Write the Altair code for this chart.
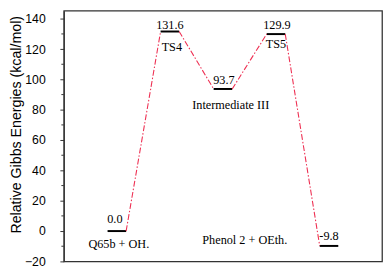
import altair as alt
import pandas as pd

# ---- data ----
stages = [1, 2, 3, 4, 5]
energies = [0.0, 131.6, 93.7, 129.9, -9.8]
names = ["Q65b + OH.", "TS4", "Intermediate III", "TS5", "Phenol 2 + OEth."]
major_ticks = [-20, 0, 20, 40, 60, 80, 100, 120, 140]
minor_ticks = [-10, 10, 30, 50, 70, 90, 110, 130]

HALF = 0.175
RED = "#ee2f52"
SERIF = "'Times New Roman', 'Liberation Serif', 'DejaVu Serif', serif"
SANS = "Arial, 'Liberation Sans', sans-serif"

levels = pd.DataFrame({"stage": stages, "energy": energies, "name": names})
levels["x1"] = levels["stage"] - HALF
levels["x2"] = levels["stage"] + HALF
levels["label"] = levels["energy"].map(lambda v: f"{v:.1f}")

links = pd.DataFrame({
    "xa": [s + HALF for s in stages[:-1]],
    "ya": energies[:-1],
    "xb": [s - HALF for s in stages[1:]],
    "yb": energies[1:],
})

minor = pd.DataFrame({"v": minor_ticks})

xs = alt.Scale(domain=[0, 6], nice=False, zero=False)
ys = alt.Scale(domain=[-20, 145.3], nice=False, zero=False)

TITLE = "Relative Gibbs Energies (kcal/mol)"


def y_axis():
    return alt.Axis(
        values=major_ticks,
        title=TITLE,
        titleFont=SANS, titleFontSize=14.5, titleFontWeight="normal", titleColor="#000",
        titleX=-44, titleY=116, titleAngle=-90, titleAlign="center", titleBaseline="alphabetic",
        labelFont=SANS, labelFontSize=12.5, labelColor="#000", labelPadding=15,
        labelOverlap=False, labelFlush=False, labelBound=False,
        tickSize=4, tickColor="#333", domainColor="#333", domainWidth=1.2, grid=False,
    )


def Y(field):
    return alt.Y(field, type="quantitative", scale=ys, axis=y_axis(), title=TITLE)


def X(field):
    return alt.X(field, type="quantitative", scale=xs, axis=None)


base_lvl = alt.Chart(levels)

bars = base_lvl.mark_rule(color="#000", strokeWidth=2).encode(
    x=X("x1"), x2="x2", y=Y("energy"),
)

minor_marks = alt.Chart(minor).mark_rule(color="#333", strokeWidth=1, clip=False).encode(
    x=alt.value(-2.5), x2=alt.value(0), y=Y("v"),
)

lines = alt.Chart(links).mark_rule(color=RED, strokeWidth=1.1, strokeDash=[6, 2, 1.5, 2]).encode(
    x=X("xa"), x2="xb", y=Y("ya"), y2="yb",
)

layers = [bars, lines, minor_marks]

# value labels above each level (dx, dy in pixels)
value_offsets = {1: (-2, -8), 2: (0, -3), 3: (1, -5), 4: (1, -5), 5: (0, -6)}
for s, (dx, dy) in value_offsets.items():
    layers.append(
        base_lvl.transform_filter(f"datum.stage == {s}").mark_text(
            font=SERIF, fontSize=12.5, color="#000", baseline="alphabetic",
            align="center", dx=dx, dy=dy,
        ).encode(x=X("stage"), y=Y("energy"), text="label:N")
    )

# name labels
name_offsets = {1: (2, 17), 2: (2, 20), 3: (8, 20), 4: (0, 14), 5: (-86, -2)}
for s, (dx, dy) in name_offsets.items():
    layers.append(
        base_lvl.transform_filter(f"datum.stage == {s}").mark_text(
            font=SERIF, fontSize=12.5, color="#000", baseline="alphabetic",
            align="center", dx=dx, dy=dy,
        ).encode(x=X("stage"), y=Y("energy"), text="name:N")
    )

chart = alt.layer(*layers).properties(
    width=325, height=256,
    autosize=alt.AutoSizeParams(type="none"),
    padding={"left": 57, "top": 0, "right": 2, "bottom": 6},
    background="white",
).configure_view(stroke="#333", strokeWidth=1.3)

chart.save("out.html", embed_options={"renderer": "svg", "actions": False})
